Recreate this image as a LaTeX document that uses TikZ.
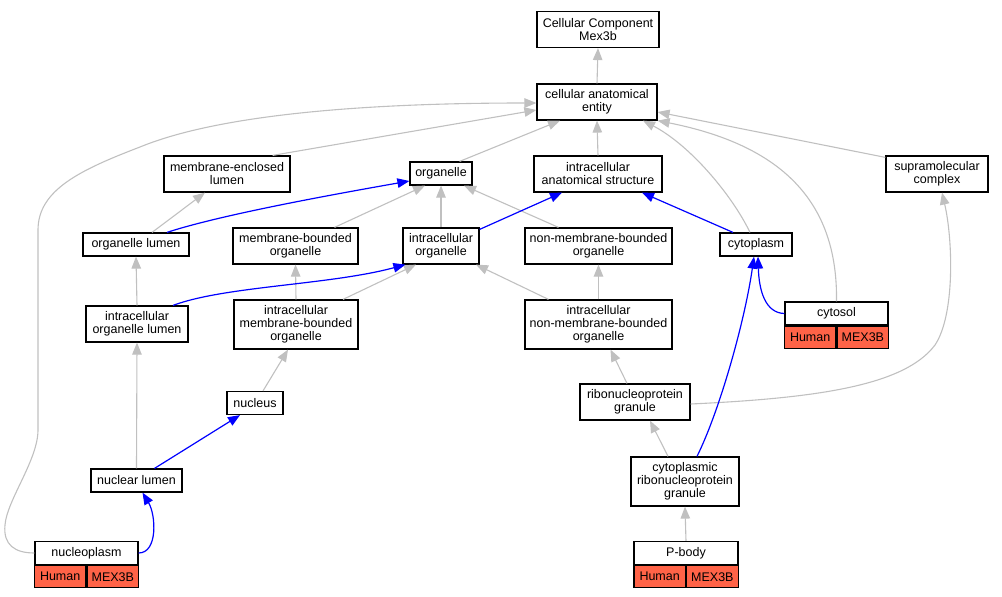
\documentclass[tikz,border=0pt]{standalone}
\usepackage{fontspec}
\setmainfont{Liberation Sans}
\usetikzlibrary{arrows.meta,positioning}
\definecolor{edgegray}{RGB}{192,192,192}
\definecolor{edgeblue}{RGB}{0,0,255}
\definecolor{tomato}{RGB}{255,99,71}

\begin{document}
\begin{tikzpicture}[x=1pt,y=-1pt,
  term/.style={draw=black,line width=1.2pt,fill=white,align=center,inner sep=2pt,
    font=\fontsize{12.5}{13}\selectfont,minimum height=23pt},
  two/.style={minimum height=36pt},
  three/.style={minimum height=49pt},
  cell/.style={term,fill=tomato,minimum height=22pt,minimum width=51.5pt},
  isa/.style={draw=edgegray,line width=1.1pt,-{Triangle[length=12pt,width=9.5pt]}},
  partof/.style={draw=edgeblue,line width=1.2pt,-{Triangle[length=12pt,width=9.5pt]}}]
\useasboundingbox (0,0) rectangle (1002,597);
% terms
\node[term,two,minimum width=122pt] (top) at (598,29.5) {Cellular Component\\Mex3b};
\node[term,two,minimum width=120pt] (cae) at (597,102) {cellular anatomical\\entity};
\node[term,two,minimum width=126pt] (mel) at (227,174) {membrane-enclosed\\lumen};
\node[term,minimum width=62pt] (organelle) at (441,173.5) {organelle};
\node[term,two,minimum width=128pt] (ias) at (598,174) {intracellular\\anatomical structure};
\node[term,two,minimum width=102pt] (smc) at (937,174) {supramolecular\\complex};
\node[term,minimum width=106pt] (ol) at (136,244.5) {organelle lumen};
\node[term,two,minimum width=125pt] (mbo) at (295.5,246) {membrane-bounded\\organelle};
\node[term,two,minimum width=76pt] (io) at (441,246) {intracellular\\organelle};
\node[term,two,minimum width=147pt] (nmbo) at (598.5,246) {non-membrane-bounded\\organelle};
\node[term,minimum width=72pt] (cytoplasm) at (756,244.5) {cytoplasm};
\node[term,two,minimum width=102pt] (iol) at (137,324) {intracellular\\organelle lumen};
\node[term,three,minimum width=124pt] (imbo) at (296,324.5) {intracellular\\membrane-bounded\\organelle};
\node[term,three,minimum width=147pt] (inmbo) at (598.5,324.5) {intracellular\\non-membrane-bounded\\organelle};
\node[term,minimum width=56pt] (nucleus) at (255,403) {nucleus};
\node[term,two,minimum width=110pt] (rnpg) at (635,402) {ribonucleoprotein\\granule};
\node[term,minimum width=91pt] (nl) at (136.5,480.5) {nuclear lumen};
\node[term,three,minimum width=108pt] (crnpg) at (685,481.5) {cytoplasmic\\ribonucleoprotein\\granule};
% annotated terms
\node[term,minimum width=103pt] (cytosol) at (836.5,313.5) {cytosol};
\node[cell,anchor=north east] (cytosol-h) at (cytosol.south) {Human};
\node[cell,anchor=north west] (cytosol-g) at (cytosol.south) {MEX3B};
\node[term,minimum width=103pt] (nucleoplasm) at (86.5,553) {nucleoplasm};
\node[cell,anchor=north east] (nucleoplasm-h) at (nucleoplasm.south) {Human};
\node[cell,anchor=north west] (nucleoplasm-g) at (nucleoplasm.south) {MEX3B};
\node[term,minimum width=104pt] (pbody) at (686,553) {P-body};
\node[cell,anchor=north east] (pbody-h) at (pbody.south) {Human};
\node[cell,anchor=north west] (pbody-g) at (pbody.south) {MEX3B};
% is_a
\draw[isa] (cae.north) -- (top.south);
\draw[isa] ([xshift=-18pt]mel.north east) -- ([yshift=-8pt]cae.west);
\draw[isa] ([xshift=-13pt]organelle.north east) -- ([xshift=-37pt]cae.south);
\draw[isa] (ias.north) -- (cae.south);
\draw[isa] ([yshift=-2pt]smc.north west) -- ([yshift=-10pt]cae.east);
\draw[isa] ([xshift=-6pt]cytoplasm.north) .. controls (732,195) and (690,145) .. ([xshift=46pt]cae.south);
\draw[isa] (cytosol.north) .. controls (838,200) and (780,145) .. (cae.south east);
\draw[isa] (nucleoplasm.west) .. controls (15,553) and (3,545) .. (5,525)
  .. controls (7,500) and (38,460) .. (38,430) -- (38,230)
  .. controls (38,190) and (80,170) .. (140,147)
  .. controls (230,110) and (400,103) .. ([yshift=-1pt]cae.west);
\draw[isa] ([xshift=16pt]ol.north) -- ([xshift=-22pt]mel.south);
\draw[isa] ([xshift=39pt]mbo.north) -- ([xshift=-16pt]organelle.south);
\draw[isa] (io.north) -- (organelle.south);
\draw[isa] ([xshift=-40pt]nmbo.north) -- ([xshift=23pt]organelle.south);
\draw[isa] (iol.north) -- (ol.south);
\draw[isa] (imbo.north) -- (mbo.south);
\draw[isa] ([xshift=47pt]imbo.north) -- ([xshift=-25pt]io.south);
\draw[isa] ([xshift=-50pt]inmbo.north) -- ([xshift=35pt]io.south);
\draw[isa] (inmbo.north) -- (nmbo.south);
\draw[isa] ([xshift=8pt]nucleus.north) -- ([xshift=-8pt]imbo.south);
\draw[isa] (nl.north) -- (iol.south);
\draw[isa] ([xshift=-8pt]rnpg.north) -- ([xshift=12pt]inmbo.south);
\draw[isa] ([yshift=-2pt]rnpg.east) .. controls (820,398) and (905,385) .. (935,345)
  .. controls (955,315) and (953,240) .. ([xshift=5pt]smc.south);
\draw[isa] ([xshift=-17pt]crnpg.north) -- ([xshift=15pt]rnpg.south);
\draw[isa] (pbody.north) -- (crnpg.south);
% part_of
\draw[partof] ([xshift=31pt]ol.north) .. controls (220,215) and (330,195) .. ([yshift=-7.5pt]organelle.west);
\draw[partof] ([yshift=-2pt]io.north east) -- ([xshift=-36pt]ias.south);
\draw[partof] ([xshift=-23pt]cytoplasm.north) -- ([xshift=44pt]ias.south);
\draw[partof] ([xshift=36pt]iol.north) .. controls (225,286) and (330,285) .. ([xshift=3pt]io.south west);
\draw[partof] (cytosol.west) .. controls (765,313) and (759,290) .. ([xshift=2pt]cytoplasm.south);
\draw[partof] ([xshift=18pt]nl.north) -- ([xshift=-15pt]nucleus.south);
\draw[partof] ([xshift=12pt]crnpg.north) .. controls (720,410) and (745,320) .. ([xshift=-2pt]cytoplasm.south);
\draw[partof] (nucleoplasm.east) .. controls (158,553) and (156,515) .. ([xshift=6pt]nl.south);
\end{tikzpicture}
\end{document}
